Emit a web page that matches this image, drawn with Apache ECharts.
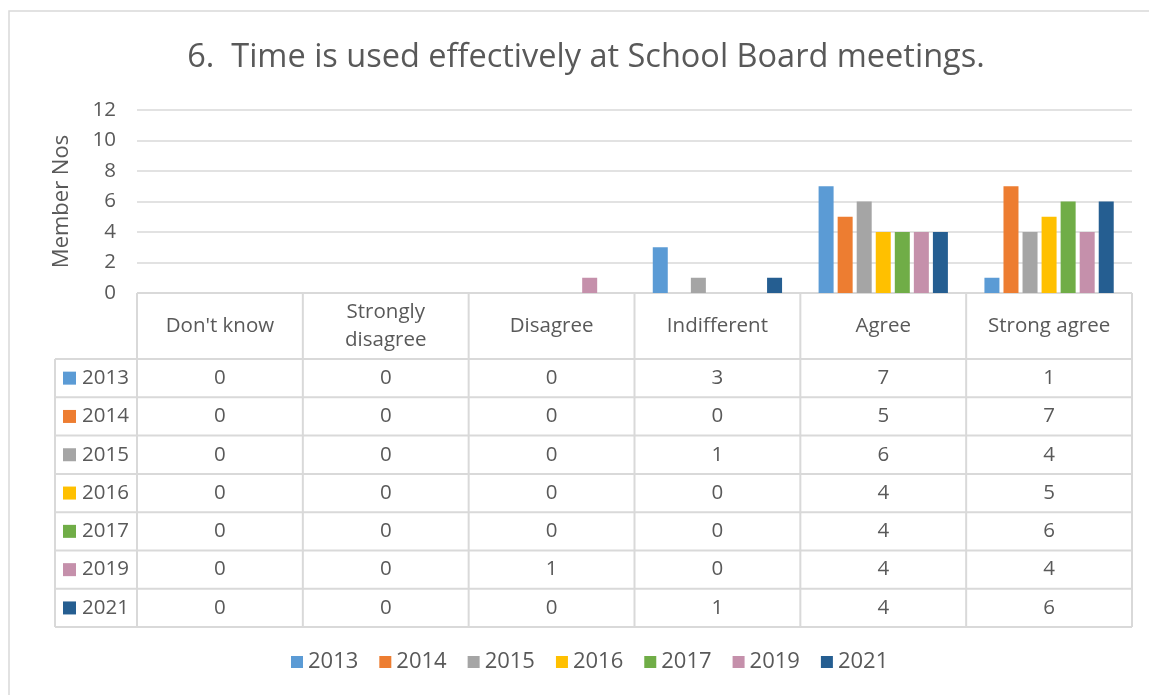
<!DOCTYPE html>
<html>
<head>
<meta charset="utf-8">
<script src="https://cdn.jsdelivr.net/npm/echarts@6/dist/echarts.min.js"></script>
<style>
  html, body { margin: 0; padding: 0; background: #fff; }
  #chart { width: 1149px; height: 695px; }
</style>
</head>
<body>
<div id="chart"></div>
<script>
// data
const categories = ["Don't know", 'Strongly\ndisagree', 'Disagree', 'Indifferent', 'Agree', 'Strong agree'];
const years = ['2013', '2014', '2015', '2016', '2017', '2019', '2021'];
const v2013 = [0, 0, 0, 3, 7, 1];
const v2014 = [0, 0, 0, 0, 5, 7];
const v2015 = [0, 0, 0, 1, 6, 4];
const v2016 = [0, 0, 0, 0, 4, 5];
const v2017 = [0, 0, 0, 0, 4, 6];
const v2019 = [0, 0, 1, 0, 4, 4];
const v2021 = [0, 0, 0, 1, 4, 6];
const yTicks = [0, 2, 4, 6, 8, 10, 12];

const seriesValues = [v2013, v2014, v2015, v2016, v2017, v2019, v2021];
const colors = ['#5B9BD5', '#ED7D31', '#A5A5A5', '#FFC000', '#70AD47', '#C590AB', '#255E91'];
const font = '"Open Sans", "Noto Sans", sans-serif';
const textColor = '#595959';
const lineColor = '#D9D9D9';

const chart = echarts.init(document.getElementById('chart'));

chart.setOption({
  animation: false,
  color: colors,
  title: {
    text: '6.  Time is used effectively at School Board meetings.',
    left: 581,
    textAlign: 'center',
    top: 36,
    textStyle: { fontFamily: font, fontSize: 32.5, fontWeight: 'normal', color: textColor }
  },
  grid: { left: 137, right: 17, top: 110, bottom: 402 },
  legend: {
    bottom: 17,
    left: 286,
    itemWidth: 12,
    itemHeight: 12,
    itemGap: 21,
    icon: 'rect',
    textStyle: { fontFamily: font, fontSize: 22, color: textColor }
  },
  xAxis: {
    type: 'category',
    data: categories,
    axisLine: { show: false },
    axisTick: { show: false },
    axisLabel: { show: false }
  },
  yAxis: {
    type: 'value',
    min: yTicks[0],
    max: yTicks[yTicks.length - 1],
    interval: 2,
    name: 'Member Nos',
    nameLocation: 'middle',
    nameGap: 64,
    nameTextStyle: { fontFamily: font, fontSize: 22, color: textColor },
    axisLabel: { fontFamily: font, fontSize: 20.5, color: textColor, margin: 21 },
    splitLine: { lineStyle: { color: lineColor, width: 1.5 } }
  },
  series: years.map((y, i) => ({
    name: y,
    type: 'bar',
    data: seriesValues[i],
    barWidth: 15,
    barGap: '27%'
  }))
});

// data table under the plot, laid out from the category axis
function drawTable() {
  const band = chart.convertToPixel({ xAxisIndex: 0 }, 1) - chart.convertToPixel({ xAxisIndex: 0 }, 0);
  const centers = categories.map((c, i) => chart.convertToPixel({ xAxisIndex: 0 }, i));
  const plotLeft = centers[0] - band / 2;
  const plotRight = centers[centers.length - 1] + band / 2;
  const top = chart.convertToPixel({ yAxisIndex: 0 }, 0);
  const headerH = 66;
  const rowH = 38.3;
  const labelLeft = 55;
  const bottomY = top + headerH + rowH * years.length;
  const els = [];
  const line = (x1, y1, x2, y2) => els.push({
    type: 'line', silent: true,
    shape: { x1, y1, x2, y2 },
    style: { stroke: lineColor, lineWidth: 2 }
  });
  const text = (x, y, t, align) => els.push({
    type: 'text', silent: true, x, y,
    style: { text: t, font: '20.5px ' + font, fill: textColor, align: align || 'center', verticalAlign: 'middle', lineHeight: 28 }
  });

  // outer border of the chart
  els.push({ type: 'rect', silent: true, shape: { x: 9, y: 11, width: 1150, height: 700 }, style: { fill: null, stroke: lineColor, lineWidth: 1.5 } });

  line(plotLeft, top, plotRight, top);
  for (let r = 0; r <= years.length; r++) {
    const y = top + headerH + r * rowH;
    line(labelLeft, y, plotRight, y);
  }
  line(labelLeft, top + headerH, labelLeft, bottomY);
  for (let c = 0; c <= categories.length; c++) {
    const x = plotLeft + c * band;
    line(x, top, x, bottomY);
  }
  categories.forEach((c, i) => text(centers[i], top + headerH / 2, c));
  years.forEach((yr, r) => {
    const cy = top + headerH + (r + 0.5) * rowH;
    els.push({ type: 'rect', silent: true, shape: { x: 63, y: cy - 6.5, width: 13, height: 13 }, style: { fill: colors[r] } });
    text(82, cy, yr, 'left');
    seriesValues[r].forEach((v, i) => text(centers[i], cy, String(v)));
  });
  chart.setOption({ graphic: { elements: els } });
}
drawTable();
</script>
</body>
</html>
